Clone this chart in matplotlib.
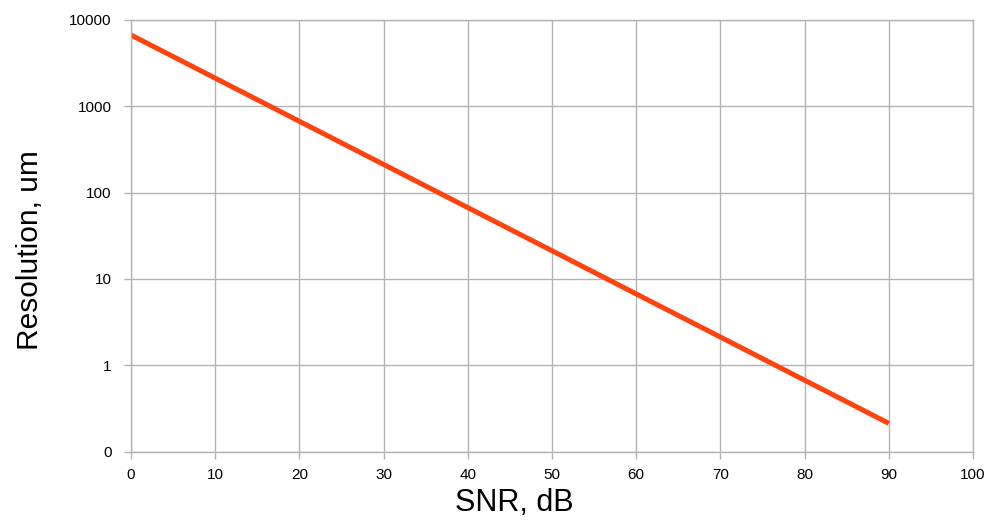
import matplotlib
matplotlib.use("Agg")
import matplotlib.pyplot as plt
from matplotlib.ticker import FixedLocator, FixedFormatter, NullLocator

plt.rcParams["font.family"] = ["Liberation Sans", "DejaVu Sans"]

GRID = "#b3b3b3"
LINE = "#ff420e"

# resolution vs signal-to-noise ratio
snr_db = [0, 10, 20, 30, 40, 50, 60, 70, 80, 90]
resolution_um = [6700, 2120, 670, 212, 67, 21.2, 6.7, 2.12, 0.67, 0.212]

x_ticks = [0, 10, 20, 30, 40, 50, 60, 70, 80, 90, 100]
y_ticks = [0.1, 1, 10, 100, 1000, 10000]
y_tick_labels = ["0", "1", "10", "100", "1000", "10000"]

fig = plt.figure(figsize=(9.87, 5.23), dpi=100)
ax = fig.add_axes([0.1327, 0.1367, 0.8531, 0.8251])

ax.plot(snr_db, resolution_um, color=LINE, linewidth=3.6, solid_capstyle="butt")

ax.set_yscale("log")
ax.set_xlim(0, 100)
ax.set_ylim(0.1, 10000)
ax.xaxis.set_major_locator(FixedLocator(x_ticks))
ax.yaxis.set_major_locator(FixedLocator(y_ticks))
ax.yaxis.set_major_formatter(FixedFormatter(y_tick_labels))
ax.yaxis.set_minor_locator(NullLocator())

ax.grid(True, color=GRID, linewidth=1.0)
ax.set_axisbelow(True)
for sp in ax.spines.values():
    sp.set_color(GRID)
    sp.set_linewidth(1.0)

ax.tick_params(axis="both", length=5, width=1.0, color=GRID,
               labelsize=11, labelcolor="#000000")
ax.tick_params(axis="y", pad=9)
ax.tick_params(axis="x", pad=7)

# axis titles sit a little off-centre
ax.set_xlabel("SNR, dB", fontsize=22, labelpad=4)
ax.xaxis.label.set_x(0.455)
ax.set_ylabel("Resolution, um", fontsize=21.5, labelpad=18)
ax.yaxis.label.set_y(0.467)

fig.savefig("out.png", dpi=100)
